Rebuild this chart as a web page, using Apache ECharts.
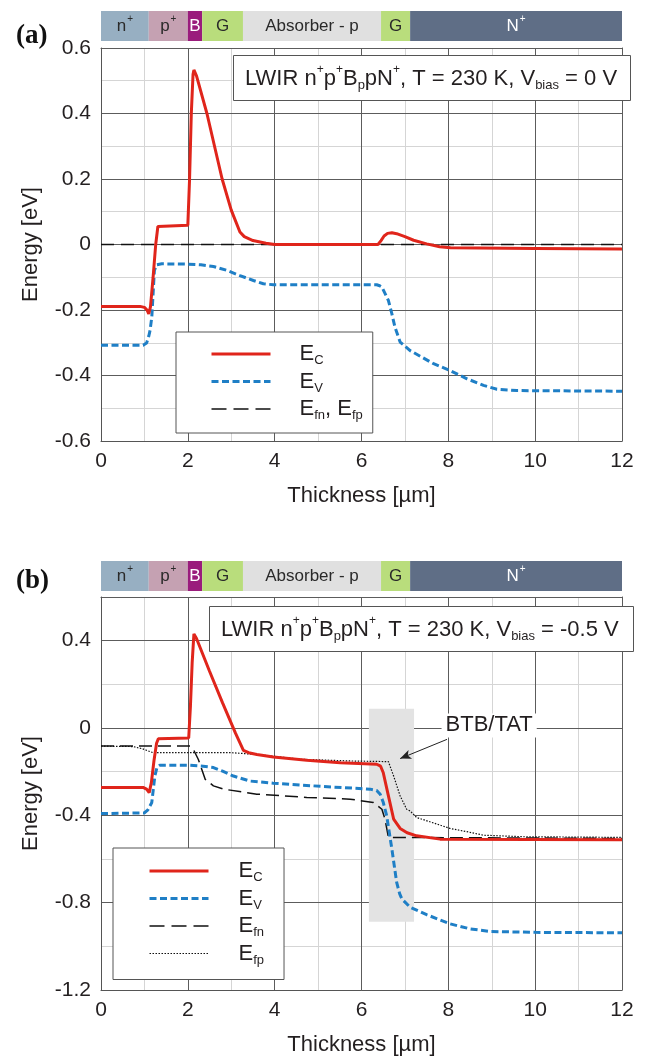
<!DOCTYPE html>
<html>
<head>
<meta charset="utf-8">
<script src="https://cdn.jsdelivr.net/npm/echarts@6/dist/echarts.min.js"></script>
<style>
  html, body { margin: 0; padding: 0; background: #fff; }
  #chart { width: 649px; height: 1057px; }
</style>
</head>
<body>
<div id="chart"></div>
<script>
// Layer stack of the device (thickness in µm)
const layerEdges  = [0, 1.1, 2.0, 2.33, 3.27, 6.45, 7.12, 12];
const layerLabels = ['{t|n}{sp|+}', '{t|p}{sp|+}', '{w|B}', '{t|G}', '{t|Absorber - p}', '{t|G}', '{w|N}{wsp|+}'];
const layerColors = ['#97afc2', '#c5a1b2', '#9a1c7c', '#b9dd7c', '#e0e0e0', '#b9dd7c', '#5f6e86'];

// Axis ticks
const xTicks = { min: 0, max: 12, major: 2, minor: 1 };
const yTicksA = { min: -0.6, max: 0.6, major: 0.2, minor: 0.1 };
const yTicksB = { min: -1.2, max: 0.6, major: 0.4, minor: 0.2 };

// (a) T = 230 K, Vbias = 0 V  — [thickness µm, energy eV]
const ecA = [[0,-0.189],[0.9,-0.189],[1.0,-0.192],[1.06,-0.2],[1.1,-0.212],[1.14,-0.19],[1.2,-0.1],[1.26,0.0],[1.31,0.055],[1.34,0.058],
  [2.0,0.059],[2.04,0.2],[2.08,0.4],[2.12,0.52],[2.14,0.533],[2.2,0.515],[2.44,0.40],[2.79,0.20],[3.0,0.105],[3.2,0.038],[3.3,0.024],
  [3.5,0.012],[3.8,0.004],[4.0,0.0],[6.38,0.0],[6.45,0.012],[6.52,0.026],[6.6,0.034],[6.7,0.036],[6.81,0.033],[7.0,0.024],[7.2,0.013],
  [7.5,0.002],[7.8,-0.007],[8.05,-0.01],[10,-0.012],[12,-0.014]];
const evA = [[0,-0.308],[0.97,-0.308],[1.05,-0.301],[1.1,-0.28],[1.13,-0.262],[1.17,-0.222],[1.2,-0.15],[1.23,-0.079],[1.28,-0.062],
  [1.4,-0.059],[2.0,-0.06],[2.3,-0.062],[2.59,-0.067],[2.9,-0.079],[3.2,-0.095],[3.51,-0.11],[3.74,-0.12],[3.97,-0.123],[6.35,-0.123],
  [6.42,-0.126],[6.47,-0.13],[6.62,-0.171],[6.7,-0.212],[6.77,-0.252],[6.89,-0.298],[7.12,-0.324],[7.66,-0.364],[8.04,-0.385],
  [8.43,-0.41],[8.81,-0.43],[9.12,-0.442],[9.58,-0.446],[12,-0.448]];
const efA = [[0,0],[12,0]];

// (b) T = 230 K, Vbias = -0.5 V
const ecB = [[0,-0.273],[0.98,-0.273],[1.05,-0.28],[1.11,-0.296],[1.16,-0.25],[1.22,-0.15],[1.28,-0.07],[1.32,-0.049],[2.02,-0.046],
  [2.06,0.1],[2.1,0.3],[2.14,0.431],[2.2,0.41],[2.5,0.26],[2.8,0.115],[3.1,-0.025],[3.28,-0.102],[3.4,-0.113],[3.59,-0.121],
  [3.97,-0.133],[4.74,-0.148],[5.51,-0.159],[6.35,-0.166],[6.44,-0.175],[6.5,-0.204],[6.62,-0.311],[6.74,-0.417],[6.89,-0.46],
  [7.05,-0.48],[7.27,-0.494],[7.81,-0.509],[12,-0.512]];
const evB = [[0,-0.392],[1.0,-0.389],[1.08,-0.375],[1.17,-0.341],[1.24,-0.22],[1.29,-0.18],[1.35,-0.171],[2.05,-0.171],[2.35,-0.175],
  [2.59,-0.181],[2.8,-0.198],[3.05,-0.22],[3.43,-0.243],[3.97,-0.253],[5.12,-0.268],[6.2,-0.28],[6.35,-0.286],[6.43,-0.303],
  [6.5,-0.34],[6.58,-0.402],[6.7,-0.555],[6.81,-0.707],[6.88,-0.76],[6.93,-0.783],[7.12,-0.821],[7.5,-0.855],[8.04,-0.897],
  [8.5,-0.92],[8.96,-0.932],[10,-0.936],[12,-0.938]];
const efnB = [[0,-0.083],[2.05,-0.083],[2.12,-0.095],[2.24,-0.143],[2.4,-0.235],[2.59,-0.265],[2.82,-0.28],[3.59,-0.303],
  [4.74,-0.318],[5.74,-0.326],[6.27,-0.341],[6.47,-0.372],[6.54,-0.417],[6.62,-0.501],[12,-0.506]];
const efpB = [[0,-0.083],[0.74,-0.085],[0.95,-0.095],[1.2,-0.113],[3.0,-0.113],[3.5,-0.12],[4.0,-0.13],[4.59,-0.143],[5.74,-0.151],
  [6.62,-0.154],[6.74,-0.22],[6.89,-0.311],[7.04,-0.372],[7.12,-0.38],[7.27,-0.41],[7.66,-0.435],[8.04,-0.46],[8.43,-0.475],
  [8.81,-0.491],[9.73,-0.498],[12,-0.501]];

// Band-to-band / trap-assisted tunnelling region and its callout
const btbRegion = { x: [6.17, 7.21], y: [-0.887, 0.088] };
const btbLabelAt = [8.94, 0.012];
const btbArrow = [[7.97, -0.052], [6.89, -0.14]];

const SANS = 'Liberation Sans, Arial, Helvetica, sans-serif';
const TEXT = '#231f20';
const FRAME = '#555';
const MAJOR = '#5c5c5c';
const MINOR = '#d5d5d5';
const RED = '#e0251b';
const BLUE = '#1f7fc6';

const chart = echarts.init(document.getElementById('chart'), null, { renderer: 'canvas' });

const PLOT_LEFT = 101, PLOT_W = 521;
const grids = [
  { left: PLOT_LEFT, width: PLOT_W, top: 11,  height: 30 },
  { left: PLOT_LEFT, width: PLOT_W, top: 48,  height: 393 },
  { left: PLOT_LEFT, width: PLOT_W, top: 561, height: 30 },
  { left: PLOT_LEFT, width: PLOT_W, top: 597, height: 394 }
];

function fmtY(v) { return Math.abs(v) < 1e-9 ? '0' : v.toFixed(1); }

function bandAxes(gi) {
  return {
    x: { type: 'value', gridIndex: gi, min: xTicks.min, max: xTicks.max, show: false },
    y: { type: 'category', gridIndex: gi, data: ['layers'], show: false }
  };
}

function plotAxes(gi, yt, showMax) {
  const line = { show: true, onZero: false, lineStyle: { color: FRAME, width: 1 } };
  return {
    x: [
      { type: 'value', gridIndex: gi, min: xTicks.min, max: xTicks.max, interval: xTicks.major, position: 'bottom', z: 1,
        axisLine: line, axisTick: { show: false },
        axisLabel: { fontSize: 21, color: TEXT, fontFamily: SANS, margin: 10 },
        splitLine: { show: true, lineStyle: { color: MAJOR, width: 1 } },
        name: 'Thickness [µm]', nameLocation: 'middle', nameGap: 44,
        nameTextStyle: { fontSize: 22, color: TEXT, fontFamily: SANS } },
      { type: 'value', gridIndex: gi, min: xTicks.min, max: xTicks.max, interval: xTicks.minor, position: 'top', z: 0,
        axisLine: line, axisTick: { show: false }, axisLabel: { show: false },
        splitLine: { show: true, lineStyle: { color: MINOR, width: 1 } } }
    ],
    y: [
      { type: 'value', gridIndex: gi, min: yt.min, max: yt.max, interval: yt.major, position: 'left', z: 1,
        axisLine: line, axisTick: { show: false },
        axisLabel: { fontSize: 21, color: TEXT, fontFamily: SANS, margin: 10, formatter: fmtY, showMaxLabel: showMax },
        splitLine: { show: true, lineStyle: { color: MAJOR, width: 1 } },
        name: 'Energy [eV]', nameLocation: 'middle', nameGap: 59, nameRotate: 90,
        nameTextStyle: { fontSize: 22, color: TEXT, fontFamily: SANS } },
      { type: 'value', gridIndex: gi, min: yt.min, max: yt.max, interval: yt.minor, position: 'right', z: 0,
        axisLine: line, axisTick: { show: false }, axisLabel: { show: false },
        splitLine: { show: true, lineStyle: { color: MINOR, width: 1 } } }
    ]
  };
}

const bA = bandAxes(0), pA = plotAxes(1, yTicksA, true), bB = bandAxes(2), pB = plotAxes(3, yTicksB, false);
// axis order: 0 band a, 1 plot a, 2 plot a minor, 3 band b, 4 plot b, 5 plot b minor
const xAxes = [bA.x, pA.x[0], pA.x[1], bB.x, pB.x[0], pB.x[1]];
const yAxes = [bA.y, pA.y[0], pA.y[1], bB.y, pB.y[0], pB.y[1]];

const bandRich = {
  t:   { fontSize: 17, color: '#2a2a2a', fontFamily: SANS },
  w:   { fontSize: 17, color: '#ffffff', fontFamily: SANS },
  sp:  { fontSize: 10, color: '#2a2a2a', fontFamily: SANS, padding: [0, 0, 14, 1] },
  wsp: { fontSize: 10, color: '#ffffff', fontFamily: SANS, padding: [0, 0, 14, 1] }
};

function bandSeries(axisIdx, stackName) {
  const out = [];
  for (let i = 0; i < layerLabels.length; i++) {
    out.push({
      type: 'bar', xAxisIndex: axisIdx, yAxisIndex: axisIdx, stack: stackName,
      data: [layerEdges[i + 1] - layerEdges[i]], barWidth: '100%',
      itemStyle: { color: layerColors[i] }, silent: true, emphasis: { disabled: true },
      label: { show: true, position: 'inside', formatter: layerLabels[i], rich: bandRich }
    });
  }
  return out;
}

function curve(name, data, axisIdx, color, width, type, z) {
  return {
    name: name, type: 'line', data: data, xAxisIndex: axisIdx, yAxisIndex: axisIdx,
    symbol: 'none', showSymbol: false, silent: true, z: z, emphasis: { disabled: true },
    lineStyle: { color: color, width: width, type: type }, itemStyle: { color: color }
  };
}

const series = [].concat(
  bandSeries(0, 'a'),
  bandSeries(3, 'b'),
  [
    curve('EF_a', efA, 1, '#111', 1.5, [13, 7], 4),
    curve('EV_a', evA, 1, BLUE, 3, [7, 3.5], 5),
    curve('EC_a', ecA, 1, RED, 3, 'solid', 6),
    // shaded tunnelling region
    { type: 'line', data: [], xAxisIndex: 4, yAxisIndex: 4, z: 3, silent: true,
      markArea: { silent: true, itemStyle: { color: '#e3e3e3' },
        data: [[{ coord: [btbRegion.x[0], btbRegion.y[1]] }, { coord: [btbRegion.x[1], btbRegion.y[0]] }]] } },
    curve('EFP_b', efpB, 4, '#111', 1.2, [1.5, 1.5], 4),
    curve('EFN_b', efnB, 4, '#111', 1.5, [13, 6], 4),
    curve('EV_b', evB, 4, BLUE, 3, [7, 3.5], 5),
    curve('EC_b', ecB, 4, RED, 3, 'solid', 6),
    // callout
    { type: 'line', data: [], xAxisIndex: 4, yAxisIndex: 4, z: 8, silent: true,
      markLine: { silent: true, symbol: ['none', 'arrow'], symbolSize: [7, 11],
        lineStyle: { color: '#222', width: 1, type: 'solid' }, label: { show: false },
        data: [[{ coord: btbArrow[0] }, { coord: btbArrow[1] }]] },
      markPoint: { silent: true, symbol: 'rect', symbolSize: 0,
        data: [{ coord: btbLabelAt }],
        label: { show: true, position: 'inside', formatter: 'BTB/TAT', fontSize: 22, color: TEXT, fontFamily: SANS,
          fontWeight: 'normal', backgroundColor: '#fff', padding: [1, 4, 1, 4] } } }
  ]
);

const legendNames = {
  EC_a: '{g|E}{s|C}', EV_a: '{g|E}{s|V}', EF_a: '{g|E}{s|fn}{e|, E}{s|fp}',
  EC_b: '{g|E}{s|C}', EV_b: '{g|E}{s|V}', EFN_b: '{g|E}{s|fn}', EFP_b: '{g|E}{s|fp}'
};
// legend sample strokes
const legendStroke = {
  EC_a: { width: 3, type: 'solid' }, EV_a: { width: 3, type: [7, 3.5] }, EF_a: { width: 1.5, type: [15, 7] },
  EC_b: { width: 3, type: 'solid' }, EV_b: { width: 3, type: [7, 3.5] }, EFN_b: { width: 1.5, type: [15, 7] },
  EFP_b: { width: 1.2, type: [1.5, 1.5] }
};
function legendRich(gap) {
  return {
    g: { fontSize: 22, color: TEXT, fontFamily: SANS, lineHeight: 26, padding: [0, 0, 0, gap] },
    e: { fontSize: 22, color: TEXT, fontFamily: SANS, lineHeight: 26 },
    s: { fontSize: 13, color: TEXT, fontFamily: SANS, lineHeight: 14, padding: [13, 0, 0, 0] }
  };
}
function legendBox(left, top, names, pad, gap) {
  return {
    orient: 'vertical', left: left, top: top, selectedMode: false,
    data: names.map(function (n) { return { name: n, lineStyle: legendStroke[n] }; }),
    itemWidth: 59, itemHeight: 14, itemGap: 1.5, padding: pad,
    backgroundColor: '#fff', borderColor: FRAME, borderWidth: 1, borderRadius: 0, z: 10,
    itemStyle: { opacity: 0 },
    formatter: function (n) { return legendNames[n]; },
    textStyle: { rich: legendRich(gap) }
  };
}

const titleRich = {
  t:  { fontSize: 22, color: TEXT, fontFamily: SANS, fontWeight: 'normal', lineHeight: 26 },
  sp: { fontSize: 12, color: TEXT, fontFamily: SANS, fontWeight: 'normal', padding: [0, 0, 18, 0] },
  sb: { fontSize: 13, color: TEXT, fontFamily: SANS, fontWeight: 'normal', padding: [12, 0, 0, 0] }
};
function conditionText(bias) {
  return '{t|LWIR n}{sp|+}{t|p}{sp|+}{t|B}{sb|p}{t|pN}{sp|+}{t|, T = 230 K, V}{sb|bias}{t| = ' + bias + ' V}';
}
function conditionBox(left, top, bias, padRight) {
  return {
    text: conditionText(bias), left: left, top: top, padding: [9, padRight, 9, 12],
    backgroundColor: '#fff', borderColor: FRAME, borderWidth: 1, z: 10,
    textStyle: { fontWeight: 'normal', rich: titleRich }
  };
}
function panelTag(text, top) {
  return {
    text: text, left: 16, top: top, padding: 0,
    textStyle: { fontFamily: 'Liberation Serif, Times New Roman, serif', fontWeight: 'bold', fontSize: 27, color: '#111', lineHeight: 30 }
  };
}

chart.setOption({
  animation: false,
  backgroundColor: '#fff',
  grid: grids,
  xAxis: xAxes,
  yAxis: yAxes,
  title: [
    panelTag('(a)', 21),
    panelTag('(b)', 566),
    conditionBox(233, 55, '0', 14),
    conditionBox(209, 606, '-0.5', 15)
  ],
  legend: [
    legendBox(176, 332, ['EC_a', 'EV_a', 'EF_a'], [9, 10, 11, 34], 24),
    legendBox(113, 848, ['EC_b', 'EV_b', 'EFN_b', 'EFP_b'], [10, 20, 13, 35], 25)
  ],
  series: series
});
</script>
</body>
</html>
